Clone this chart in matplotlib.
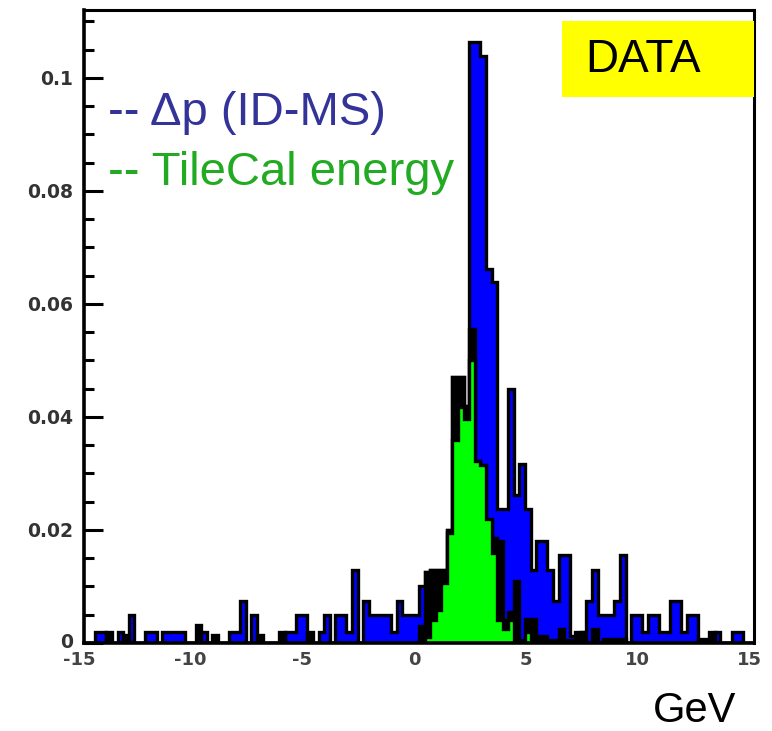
import numpy as np
import matplotlib
matplotlib.use("Agg")
import matplotlib.pyplot as plt
from matplotlib.transforms import ScaledTranslation

# ---------------- data ----------------
x_min, x_max, bin_width = -15.0, 15.0, 0.25
edges = np.arange(x_min, x_max + bin_width / 2, bin_width)

# Delta p (ID-MS), normalised
dp_values = [
    0, 0, 0.0019, 0.0019, 0, 0, 0.0019, 0, 0.005, 0,
    0, 0.0019, 0.0019, 0, 0.0019, 0.0019, 0.0019, 0.0019, 0, 0,
    0, 0.0019, 0, 0, 0, 0, 0.0019, 0.0019, 0.0075, 0,
    0.005, 0, 0, 0, 0, 0, 0.0019, 0.0019, 0.005, 0.005,
    0, 0, 0.0019, 0.005, 0, 0.005, 0.005, 0.0019, 0.013, 0,
    0.0075, 0.005, 0.005, 0.005, 0.005, 0.0019, 0.0075, 0.005, 0.005, 0.005,
    0.010, 0.0125, 0.013, 0.013, 0.013, 0.020, 0.047, 0.047, 0.042, 0.1063,
    0.1063, 0.1039, 0.0662, 0.0638, 0.0237, 0.0237, 0.045, 0.0261, 0.0316, 0.0237,
    0.013, 0.018, 0.018, 0.013, 0.0075, 0.0155, 0.0155, 0.0013, 0.0013, 0.0019,
    0.0075, 0.013, 0.005, 0.005, 0.005, 0.0075, 0.0155, 0, 0.005, 0.005,
    0.0019, 0.005, 0.005, 0.0019, 0.0019, 0.0075, 0.0075, 0.0019, 0.005, 0.005,
    0, 0, 0, 0.0019, 0, 0, 0.0019, 0.0019, 0, 0,
]

# dark (black) component seen between / over the two histograms
dark_values = [0.0] * 120
dark_bins = {4: 0.0019, 7: 0.0015, 20: 0.0031, 23: 0.0014, 31: 0.0014, 35: 0.0019,
             40: 0.0019, 60: 0.003, 61: 0.0125, 62: 0.013, 63: 0.013, 64: 0.013,
             65: 0.020, 66: 0.047, 67: 0.047, 68: 0.042, 69: 0.0555, 70: 0.0322,
             71: 0.0315, 72: 0.0215, 73: 0.0185, 74: 0.018, 75: 0.004, 76: 0.0055,
             77: 0.011, 79: 0.0043, 80: 0.0043, 81: 0.0013, 82: 0.0013, 85: 0.0024,
             88: 0.0019, 89: 0.0019, 91: 0.0024, 93: 0.0007, 94: 0.0007, 95: 0.0007,
             96: 0.0007, 110: 0.0007, 111: 0.0007, 112: 0.0019}
for k, v in dark_bins.items():
    dark_values[k] = v

# TileCal energy, normalised
tile_values = [0.0] * 120
tile_bins = {60: 0.0006, 61: 0.001, 62: 0.004, 63: 0.0058, 64: 0.0107, 65: 0.0195,
             66: 0.036, 67: 0.0417, 68: 0.0396, 69: 0.0501, 70: 0.0322, 71: 0.0315,
             72: 0.022, 73: 0.016, 74: 0.004, 75: 0.0025, 76: 0.004, 77: 0.0006,
             78: 0.0006, 79: 0.002, 83: 0.0006, 84: 0.0006, 86: 0.0006, 87: 0.0006}
for k, v in tile_bins.items():
    tile_values[k] = v

y_ticks = [0, 0.02, 0.04, 0.06, 0.08, 0.1]
y_tick_labels = ["0", "0.02", "0.04", "0.06", "0.08", "0.1"]
x_ticks = [-15, -10, -5, 0, 5, 10, 15]
x_tick_labels = ["-15", "-10", "-5", "0", "5", "10", "15"]

# ---------------- figure ----------------
W, H = 772, 731
fig = plt.figure(figsize=(W / 100, H / 100), dpi=100)
ax = fig.add_axes([84 / W, (H - 643) / H, 670 / W, 633 / H])

lw = 2.4
ax.stairs(dp_values, edges, fill=True, facecolor="#0000ff", edgecolor="black",
          linewidth=lw, zorder=1)
ax.stairs(dark_values, edges, fill=True, facecolor="black", edgecolor="black",
          linewidth=lw, zorder=2)
ax.stairs(tile_values, edges, fill=True, facecolor="#00ff00", edgecolor="black",
          linewidth=lw, zorder=3)

ax.set_xlim(x_min, x_max)
ax.set_ylim(0, 0.112)

for side in ["left", "bottom"]:
    ax.spines[side].set_linewidth(2.6)
for side in ["top", "right"]:
    ax.spines[side].set_linewidth(2.2)
for s in ax.spines.values():
    s.set_zorder(5)

ax.set_yticks(y_ticks)
ax.set_yticklabels(y_tick_labels)
ax.set_yticks(np.arange(0, 0.1121, 0.005), minor=True)
ax.tick_params(axis="y", which="major", direction="in", length=14, width=2.2,
               pad=8, labelsize=13.5, labelcolor="#333333")
ax.tick_params(axis="y", which="minor", direction="in", length=7.5, width=2.2)

ax.set_xticks(x_ticks)
ax.set_xticklabels(x_tick_labels)
ax.tick_params(axis="x", which="both", length=0, pad=6, labelsize=13,
               labelcolor="#444444")
off = ScaledTranslation(-5 / 100, 0, fig.dpi_scale_trans)
for lab in ax.get_xticklabels():
    lab.set_transform(lab.get_transform() + off)
    lab.set_fontweight("bold")
for lab in ax.get_yticklabels():
    lab.set_fontweight("bold")
ax.get_yticklabels()[0].set_transform(
    ax.get_yticklabels()[0].get_transform()
    + ScaledTranslation(0, 3 / 100, fig.dpi_scale_trans))

# legend-like coloured texts
ax.text(108 / W, 1 - 125 / H, "-- \u0394p (ID-MS)", transform=fig.transFigure,
        fontsize=34, color="#333399", family="Liberation Sans",
        ha="left", va="baseline", zorder=6)
ax.text(108 / W, 1 - 185 / H, "-- TileCal energy", transform=fig.transFigure,
        fontsize=34, color="#22aa22", family="Liberation Sans",
        ha="left", va="baseline", zorder=6)

# DATA box
fig.patches.append(plt.Rectangle((562 / W, 1 - 97 / H), 192 / W, 76 / H,
                                 transform=fig.transFigure, facecolor="#ffff00",
                                 edgecolor="none", zorder=6))
fig.text(643 / W, 1 - 60 / H, "DATA", fontsize=33, family="Liberation Sans",
         color="black", ha="center", va="center", zorder=7)

fig.text(736 / W, 1 - 711 / H, "GeV", fontsize=30, family="Liberation Sans",
         color="black", ha="right", va="center")

fig.savefig("out.png", dpi=100)
